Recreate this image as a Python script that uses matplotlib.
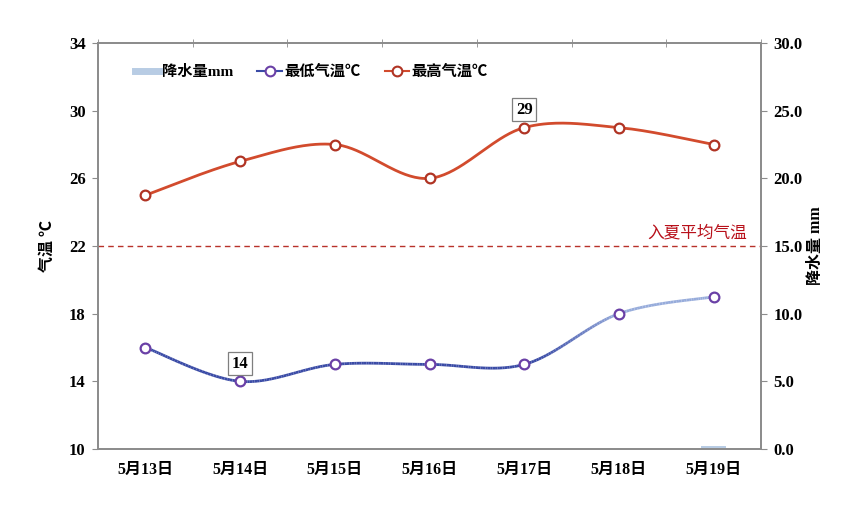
import numpy as np
import matplotlib
matplotlib.use('Agg')
import matplotlib.pyplot as plt
from matplotlib.collections import LineCollection
from matplotlib.lines import Line2D
from matplotlib.colors import to_rgb
from matplotlib.ticker import FixedLocator

plt.rcParams['font.family'] = ['Liberation Serif', 'Noto Sans CJK SC', 'DejaVu Sans']
plt.rcParams['font.weight'] = 'bold'
plt.rcParams['axes.labelweight'] = 'bold'

# dados
dias = ['5月13日', '5月14日', '5月15日', '5月16日', '5月17日', '5月18日', '5月19日']
t_min = [16, 14, 15, 15, 15, 18, 19]
t_max = [25, 27, 28, 26, 29, 29, 28]
chuva = [0, 0, 0, 0, 0, 0, 0.2]
media_verao = 22

cor_max = '#d24b2d'
cor_max_borda = '#b03424'
cor_min_escuro = '#3a4ba6'
cor_min_claro = '#97acdb'
cor_min_borda = '#6a40a6'
cor_chuva = '#b8cce4'
cor_eixo = '#8c8c8c'


def spline(x, y, n=40):
    # curva suavizada tipo Catmull-Rom (como o Excel)
    x = np.asarray(x, float)
    y = np.asarray(y, float)
    px = np.concatenate([[x[0]], x, [x[-1]]])
    py = np.concatenate([[y[0]], y, [y[-1]]])
    xs, ys = [], []
    for i in range(1, len(px) - 2):
        t = np.linspace(0, 1, n)
        for p, out in ((px, xs), (py, ys)):
            p0, p1, p2, p3 = p[i - 1], p[i], p[i + 1], p[i + 2]
            out.extend(0.5 * ((2 * p1) + (-p0 + p2) * t
                              + (2 * p0 - 5 * p1 + 4 * p2 - p3) * t ** 2
                              + (-p0 + 3 * p1 - 3 * p2 + p3) * t ** 3))
    return np.array(xs), np.array(ys)


x = np.arange(len(dias))

fig = plt.figure(figsize=(8.49, 5.2), dpi=100)
ax = fig.add_axes([98 / 849, 1 - 449 / 520, (761 - 98) / 849, (449 - 43) / 520])
ax2 = ax.twinx()

# barras de chuva no eixo secundario
ax2.bar(x, chuva, width=0.27, color=cor_chuva, zorder=1)
ax2.set_ylim(0, 30)
ax2.set_yticks(np.arange(0, 31, 5))
ax2.set_yticklabels([f'{v:.1f}' for v in np.arange(0, 31, 5)])
ax2.set_ylabel('降水量 mm', fontsize=11.5, labelpad=4)

ax.set_zorder(ax2.get_zorder() + 1)
ax.patch.set_visible(False)

# linha de maxima
sx, sy = spline(x, t_max)
ax.plot(sx, sy, color=cor_max, lw=2.0, zorder=3)
ax.plot(x, t_max, 'o', ms=7, mfc='white', mec=cor_max_borda, mew=1.6, zorder=4)

# linha de minima com degrade
sx, sy = spline(x, t_min)
pts = np.column_stack([sx, sy]).reshape(-1, 1, 2)
segs = np.concatenate([pts[:-1], pts[1:]], axis=1)
xm = (sx[:-1] + sx[1:]) / 2
f = np.clip((xm - 4.15) / (5.0 - 4.15), 0, 1)[:, None]
c0 = np.array(to_rgb(cor_min_escuro))
c1 = np.array(to_rgb(cor_min_claro))
ax.add_collection(LineCollection(segs, colors=c0 * (1 - f) + c1 * f, linewidths=2.0, zorder=3))
ax.plot(x, t_min, 'o', ms=7, mfc='white', mec=cor_min_borda, mew=1.6, zorder=4)

# linha media
ax.axhline(media_verao, color='#b8322a', lw=1.0, ls=(0, (4, 3)), zorder=2)
ax.text(6.35, media_verao + 0.25, '入夏平均气温', color='#b8101a', fontsize=12,
        fontweight='normal', ha='right', va='bottom')

# rotulos de maximo e minimo
caixa = dict(boxstyle='square,pad=0.22', fc='white', ec='#7f7f7f', lw=0.9)
i_max = 4
ax.text(i_max, t_max[i_max] + 1.05, str(t_max[i_max]), ha='center', va='center',
        fontsize=12, bbox=caixa, zorder=5)
i_min = int(np.argmin(t_min))
ax.text(i_min, t_min[i_min] + 1.05, str(t_min[i_min]), ha='center', va='center',
        fontsize=12, bbox=caixa, zorder=5)

ax.set_xlim(-0.5, len(dias) - 0.5)
ax.set_ylim(10, 34)
ax.set_yticks(np.arange(10, 35, 4))
ax.set_xticks(x)
ax.set_xticklabels(dias)
ax.xaxis.set_minor_locator(FixedLocator(np.arange(-0.5, len(dias), 1)))
ax.tick_params(axis='x', which='major', length=0, pad=9, labelsize=11.5)
ax.tick_params(axis='x', which='minor', top=True, bottom=False, direction='inout', length=6,
               color=cor_eixo)
ax.tick_params(axis='y', length=4, color=cor_eixo, labelsize=12, pad=5)
ax2.tick_params(axis='y', length=4, color=cor_eixo, labelsize=12, pad=5)
ax.set_ylabel('气温 ℃', fontsize=11.5, labelpad=9)

for a in (ax, ax2):
    for s in a.spines.values():
        s.set_color(cor_eixo)
        s.set_linewidth(1.3)

# legenda
handles = [
    Line2D([], [], color=cor_chuva, lw=5),
    Line2D([], [], color=cor_min_escuro, lw=1.5, marker='o', ms=7, mfc='white', mec=cor_min_borda, mew=1.5),
    Line2D([], [], color=cor_max, lw=1.5, marker='o', ms=7, mfc='white', mec=cor_max_borda, mew=1.5),
]
ax.legend(handles, ['降水量mm', '最低气温℃', '最高气温℃'], ncol=3, loc='center left',
          bbox_to_anchor=(0.035, 0.929), frameon=False, fontsize=11, handlelength=1.6,
          handletextpad=0.15, columnspacing=1.6)

fig.savefig('out.png', dpi=100)
